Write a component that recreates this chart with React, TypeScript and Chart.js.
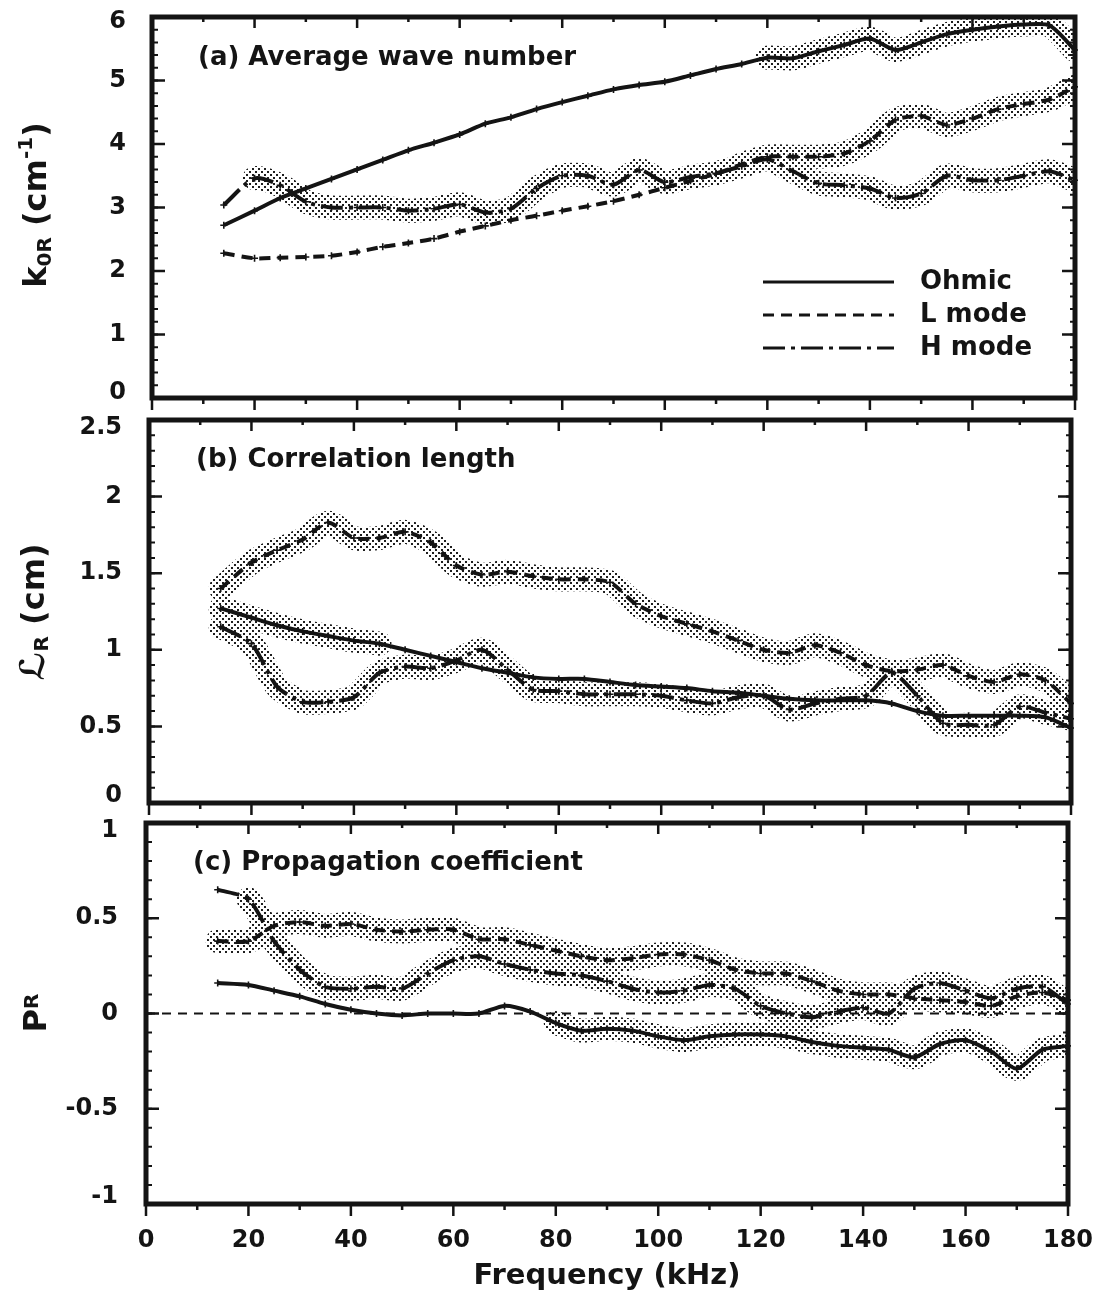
import React, { useEffect, useRef } from 'react';
import { Chart, registerables } from 'chart.js';

Chart.register(...registerables);

// ---------------- data ----------------
const freq = [14, 20, 25, 30, 35, 40, 45, 50, 55, 60, 65, 70, 75, 80, 85, 90, 95, 100, 105, 110, 115, 120, 125, 130, 135, 140, 145, 150, 155, 160, 165, 170, 175, 180];

// (a) average wave number k0R (cm^-1)
const kOhmic = [2.72, 2.95, 3.15, 3.3, 3.45, 3.6, 3.75, 3.9, 4.02, 4.15, 4.32, 4.42, 4.55, 4.66, 4.76, 4.86, 4.93, 4.98, 5.08, 5.18, 5.26, 5.36, 5.35, 5.46, 5.56, 5.66, 5.48, 5.6, 5.73, 5.8, 5.85, 5.88, 5.87, 5.48];
const kLmode = [2.28, 2.2, 2.21, 2.22, 2.24, 2.3, 2.38, 2.44, 2.51, 2.62, 2.71, 2.8, 2.87, 2.95, 3.02, 3.1, 3.2, 3.31, 3.42, 3.53, 3.68, 3.8, 3.8, 3.8, 3.85, 4.05, 4.38, 4.44, 4.3, 4.4, 4.55, 4.63, 4.7, 4.9];
const kHmode = [3.04, 3.46, 3.35, 3.09, 3.0, 3.0, 3.0, 2.95, 2.98, 3.05, 2.92, 2.98, 3.3, 3.5, 3.5, 3.36, 3.59, 3.4, 3.48, 3.54, 3.65, 3.76, 3.57, 3.38, 3.35, 3.3, 3.15, 3.22, 3.5, 3.43, 3.43, 3.5, 3.57, 3.43];

// (b) correlation length L_R (cm)
const lOhmic = [1.27, 1.21, 1.16, 1.12, 1.09, 1.06, 1.04, 1.0, 0.96, 0.92, 0.88, 0.85, 0.82, 0.81, 0.81, 0.79, 0.77, 0.76, 0.75, 0.73, 0.72, 0.7, 0.68, 0.67, 0.67, 0.67, 0.65, 0.6, 0.57, 0.57, 0.57, 0.57, 0.56, 0.49];
const lLmode = [1.4, 1.57, 1.65, 1.72, 1.83, 1.73, 1.73, 1.77, 1.7, 1.55, 1.49, 1.51, 1.48, 1.46, 1.46, 1.44, 1.3, 1.22, 1.17, 1.12, 1.06, 1.0, 0.98, 1.03, 0.98, 0.9, 0.86, 0.87, 0.9, 0.83, 0.79, 0.84, 0.8, 0.65];
const lHmode = [1.15, 1.04, 0.76, 0.66, 0.66, 0.69, 0.85, 0.89, 0.88, 0.93, 1.0, 0.87, 0.74, 0.73, 0.71, 0.71, 0.71, 0.7, 0.67, 0.65, 0.69, 0.7, 0.61, 0.65, 0.68, 0.7, 0.85, 0.7, 0.52, 0.51, 0.51, 0.63, 0.59, 0.55];

// (c) propagation coefficient P_R
const pOhmic = [0.16, 0.15, 0.12, 0.09, 0.05, 0.02, 0.0, -0.01, 0.0, 0.0, 0.0, 0.04, 0.01, -0.05, -0.09, -0.08, -0.09, -0.12, -0.14, -0.12, -0.11, -0.11, -0.12, -0.15, -0.17, -0.18, -0.19, -0.23, -0.16, -0.14, -0.2, -0.29, -0.19, -0.17];
const pLmode = [0.38, 0.38, 0.46, 0.48, 0.46, 0.47, 0.44, 0.43, 0.44, 0.44, 0.39, 0.39, 0.36, 0.33, 0.3, 0.28, 0.29, 0.31, 0.31, 0.28, 0.23, 0.21, 0.21, 0.17, 0.12, 0.1, 0.1, 0.08, 0.07, 0.06, 0.04, 0.09, 0.11, 0.07];
const pHmode = [0.65, 0.6, 0.38, 0.23, 0.14, 0.13, 0.14, 0.13, 0.21, 0.28, 0.3, 0.26, 0.23, 0.21, 0.2, 0.17, 0.13, 0.11, 0.12, 0.15, 0.13, 0.04, 0.0, -0.02, 0.01, 0.03, 0.0, 0.13, 0.16, 0.12, 0.08, 0.13, 0.14, 0.05];

const zeroLineX = [0, 180];
const zeroLineY = [0, 0];

// tick labels
const freqTicks = [0, 20, 40, 60, 80, 100, 120, 140, 160, 180];
const kTicks = [0, 1, 2, 3, 4, 5, 6];
const lTicks = [0, 0.5, 1, 1.5, 2, 2.5];
const pTicks = [-1, -0.5, 0, 0.5, 1];

const legendLabels = ['Ohmic', 'L mode', 'H mode'];

// ---------------- styles ----------------
const W = 1094;
const H = 1295;
const INK = '#141414';
const FONT = "'DejaVu Sans', 'Liberation Sans', Arial, sans-serif";
const DASH_SOLID: number[] = [];
const DASH_L = [11, 7];
const DASH_H = [22, 6, 4, 6];

type Series = { values: number[]; dash: number[]; band: [number, number] | null };
type TitlePart = { t: string; s: number; dy: number };
type Panel = {
  area: { top: number; bottom: number; left: number; right: number };
  yMin: number;
  yMax: number;
  yTicks: number[];
  minorStep: number;
  tickPad: number;
  edgeShift: number;
  series: Series[];
  title: { text: string; x: number; y: number };
  yTitle: { parts: TitlePart[]; x: number; y: number };
  showX: boolean;
  legend: boolean;
  zero: boolean;
};

const PANELS: Panel[] = [
  {
    area: { top: 17, bottom: 398, left: 152, right: 1075 },
    yMin: 0, yMax: 6, yTicks: kTicks, minorStep: 0.2, tickPad: 18, edgeShift: 10,
    series: [
      { values: kOhmic, dash: DASH_SOLID, band: [118, 180] },
      { values: kLmode, dash: DASH_L, band: [115, 180] },
      { values: kHmode, dash: DASH_H, band: [20, 180] },
    ],
    title: { text: '(a) Average wave number', x: 198, y: 58 },
    yTitle: {
      parts: [
        { t: 'k', s: 32, dy: 0 },
        { t: '0R', s: 20, dy: 5 },
        { t: ' (cm', s: 32, dy: 0 },
        { t: '-1', s: 20, dy: -14 },
        { t: ')', s: 32, dy: 0 },
      ],
      x: 46, y: 205,
    },
    showX: false, legend: true, zero: false,
  },
  {
    area: { top: 420, bottom: 803, left: 149, right: 1071 },
    yMin: 0, yMax: 2.5, yTicks: lTicks, minorStep: 0.1, tickPad: 19, edgeShift: 15,
    series: [
      { values: lOhmic, dash: DASH_SOLID, band: [14, 45] },
      { values: lLmode, dash: DASH_L, band: [14, 180] },
      { values: lHmode, dash: DASH_H, band: [14, 180] },
    ],
    title: { text: '(b) Correlation length', x: 196, y: 460 },
    yTitle: {
      parts: [
        { t: 'ℒ', s: 34, dy: 0 },
        { t: 'R', s: 20, dy: 4 },
        { t: ' (cm)', s: 32, dy: 0 },
      ],
      x: 44, y: 612,
    },
    showX: false, legend: false, zero: false,
  },
  {
    area: { top: 823, bottom: 1204, left: 146, right: 1068 },
    yMin: -1, yMax: 1, yTicks: pTicks, minorStep: 0.1, tickPad: 20, edgeShift: 15,
    series: [
      { values: pOhmic, dash: DASH_SOLID, band: [78, 180] },
      { values: pLmode, dash: DASH_L, band: [14, 180] },
      { values: pHmode, dash: DASH_H, band: [20, 180] },
    ],
    title: { text: '(c) Propagation coefficient', x: 193, y: 863 },
    yTitle: {
      parts: [
        { t: 'P', s: 32, dy: 0 },
        { t: 'R', s: 20, dy: -8 },
      ],
      x: 46, y: 1013,
    },
    showX: true, legend: false, zero: true,
  },
];

function makePattern(): CanvasPattern | string {
  const c = document.createElement('canvas');
  c.width = 6;
  c.height = 6;
  const g = c.getContext('2d');
  if (!g) return 'rgba(60,60,60,0.3)';
  g.fillStyle = '#1e1e1e';
  g.fillRect(0, 0, 2, 2);
  g.fillRect(3, 3, 2, 2);
  return g.createPattern(c, 'repeat') || 'rgba(60,60,60,0.3)';
}

function toPoints(values: number[]) {
  return freq.map((x, i) => ({ x, y: values[i] }));
}

function makeFramePlugin(p: Panel) {
  return {
    id: 'frameDecor',
    afterDatasetsDraw(chart: any) {
      const { ctx, chartArea: a, scales } = chart;
      const xs = scales.x;
      const ys = scales.y;
      ctx.save();
      ctx.strokeStyle = INK;
      ctx.lineCap = 'butt';
      ctx.lineWidth = 2.5;
      for (let i = 0; i < freqTicks.length; i++) {
        const px = xs.getPixelForValue(freqTicks[i]);
        ctx.beginPath();
        ctx.moveTo(px, a.bottom);
        ctx.lineTo(px, a.bottom + 12);
        ctx.moveTo(px, a.top);
        ctx.lineTo(px, a.top + 11);
        ctx.stroke();
        if (i < freqTicks.length - 1) {
          const mx = xs.getPixelForValue((freqTicks[i] + freqTicks[i + 1]) / 2);
          ctx.beginPath();
          ctx.moveTo(mx, a.bottom);
          ctx.lineTo(mx, a.bottom + 6);
          ctx.moveTo(mx, a.top);
          ctx.lineTo(mx, a.top + 5);
          ctx.stroke();
        }
      }
      for (const v of p.yTicks) {
        const py = ys.getPixelForValue(v);
        ctx.beginPath();
        ctx.moveTo(a.left, py);
        ctx.lineTo(a.left + 13, py);
        ctx.moveTo(a.right, py);
        ctx.lineTo(a.right - 13, py);
        ctx.stroke();
      }
      ctx.lineWidth = 2;
      const n = Math.round((p.yMax - p.yMin) / p.minorStep);
      for (let i = 1; i < n; i++) {
        const py = ys.getPixelForValue(p.yMin + i * p.minorStep);
        ctx.beginPath();
        ctx.moveTo(a.left, py);
        ctx.lineTo(a.left + 6, py);
        ctx.moveTo(a.right, py);
        ctx.lineTo(a.right - 5, py);
        ctx.stroke();
      }
      ctx.lineWidth = 5;
      ctx.strokeRect(a.left, a.top, a.right - a.left, a.bottom - a.top);
      ctx.restore();
    },
    afterDraw(chart: any) {
      const { ctx } = chart;
      ctx.save();
      ctx.fillStyle = INK;
      ctx.font = `bold 26px ${FONT}`;
      ctx.textAlign = 'left';
      ctx.textBaseline = 'middle';
      ctx.fillText(p.title.text, p.title.x, p.title.y);
      ctx.save();
      ctx.translate(p.yTitle.x, p.yTitle.y);
      ctx.rotate(-Math.PI / 2);
      ctx.textBaseline = 'alphabetic';
      let total = 0;
      for (const part of p.yTitle.parts) {
        ctx.font = `bold ${part.s}px ${FONT}`;
        total += ctx.measureText(part.t).width;
      }
      let cx = -total / 2;
      for (const part of p.yTitle.parts) {
        ctx.font = `bold ${part.s}px ${FONT}`;
        ctx.fillText(part.t, cx, part.dy);
        cx += ctx.measureText(part.t).width;
      }
      ctx.restore();
      if (p.legend) {
        const dashes = [DASH_SOLID, DASH_L, DASH_H];
        ctx.font = `bold 26px ${FONT}`;
        ctx.textBaseline = 'middle';
        ctx.strokeStyle = INK;
        ctx.lineWidth = 3;
        for (let i = 0; i < legendLabels.length; i++) {
          const y = 282 + i * 33;
          ctx.setLineDash(dashes[i]);
          ctx.beginPath();
          ctx.moveTo(763, y);
          ctx.lineTo(894, y);
          ctx.stroke();
          ctx.setLineDash([]);
          ctx.fillText(legendLabels[i], 920, y);
        }
      }
      ctx.restore();
    },
  };
}

function buildConfig(p: Panel, pattern: CanvasPattern | string): any {
  const datasets: any[] = [];
  for (const s of p.series) {
    const band = s.band;
    datasets.push({
      data: toPoints(s.values),
      borderColor: pattern,
      borderWidth: 24,
      borderCapStyle: 'round',
      borderJoinStyle: 'round',
      pointRadius: 0,
      tension: 0.25,
      fill: false,
      order: 3,
      clip: 2,
      segment: {
        borderColor: (ctx: any) => {
          const x0 = ctx.p0.parsed.x;
          const x1 = ctx.p1.parsed.x;
          return band && x0 >= band[0] - 0.01 && x1 <= band[1] + 0.01 ? pattern : 'rgba(0,0,0,0)';
        },
      },
    });
  }
  for (const s of p.series) {
    datasets.push({
      data: toPoints(s.values),
      borderColor: INK,
      borderWidth: 4,
      borderDash: s.dash,
      pointStyle: 'cross',
      pointRadius: 3.5,
      pointBorderWidth: 1.6,
      pointBorderColor: INK,
      pointBackgroundColor: INK,
      tension: 0.25,
      fill: false,
      order: 1,
      clip: 3,
    });
  }
  if (p.zero) {
    datasets.push({
      data: zeroLineX.map((x, i) => ({ x, y: zeroLineY[i] })),
      borderColor: INK,
      borderWidth: 1.8,
      borderDash: [9, 7],
      pointRadius: 0,
      fill: false,
      order: 2,
    });
  }

  const a = p.area;
  const isEdge = (v: number) => v === p.yMin || v === p.yMax;
  return {
    type: 'line',
    data: { datasets },
    options: {
      animation: false,
      responsive: false,
      events: [],
      layout: {
        padding: {
          top: a.top,
          bottom: p.showX ? 0 : H - a.bottom,
          left: 0,
          right: W - a.right,
        },
      },
      plugins: { legend: { display: false }, tooltip: { enabled: false }, title: { display: false } },
      scales: {
        x: {
          type: 'linear',
          min: 0,
          max: 180,
          display: p.showX,
          grid: { display: false },
          border: { display: false },
          afterBuildTicks: (s: any) => {
            s.ticks = freqTicks.map((v) => ({ value: v }));
          },
          afterFit: (s: any) => {
            if (p.showX) s.height = H - a.bottom;
            s.paddingLeft = 0;
            s.paddingRight = 0;
          },
          ticks: {
            color: INK,
            padding: 14,
            maxRotation: 0,
            autoSkip: false,
            font: { family: FONT, weight: 'bold', size: 24 },
            callback: (v: any) => String(v),
          },
          title: {
            display: true,
            text: 'Frequency (kHz)',
            color: INK,
            font: { family: FONT, weight: 'bold', size: 29 },
            padding: { top: 0, bottom: 1 },
          },
        },
        y: {
          type: 'linear',
          min: p.yMin,
          max: p.yMax,
          grid: { display: false },
          border: { display: false },
          afterBuildTicks: (s: any) => {
            s.ticks = p.yTicks.map((v) => ({ value: v }));
          },
          afterFit: (s: any) => {
            s.width = a.left;
            s.paddingTop = 0;
            s.paddingBottom = 0;
          },
          ticks: {
            color: INK,
            padding: p.tickPad,
            labelOffset: 0,
            autoSkip: false,
            font: (c: any) => ({
              family: FONT,
              weight: 'bold',
              size: 24,
              lineHeight: c.tick && isEdge(c.tick.value) ? `${p.edgeShift}px` : 1.2,
            }),
            callback: (v: any) => {
              const t = String(v);
              if (v === p.yMax) return ['', t];
              if (v === p.yMin) return [t, ''];
              return t;
            },
          },
        },
      },
    },
    plugins: [makeFramePlugin(p)],
  };
}

export default function App() {
  const r0 = useRef<HTMLCanvasElement>(null);
  const r1 = useRef<HTMLCanvasElement>(null);
  const r2 = useRef<HTMLCanvasElement>(null);

  useEffect(() => {
    const pattern = makePattern();
    const refs = [r0, r1, r2];
    const charts: Chart[] = [];
    PANELS.forEach((p, i) => {
      const el = refs[i].current;
      if (el) charts.push(new Chart(el, buildConfig(p, pattern)));
    });
    return () => charts.forEach((c) => c.destroy());
  }, []);

  const cstyle: React.CSSProperties = { position: 'absolute', left: 0, top: 0, width: W, height: H };
  return (
    <div style={{ position: 'absolute', left: 0, top: 0, width: W, height: H, background: '#fff', overflow: 'hidden' }}>
      <canvas ref={r0} width={W} height={H} style={cstyle} />
      <canvas ref={r1} width={W} height={H} style={cstyle} />
      <canvas ref={r2} width={W} height={H} style={cstyle} />
    </div>
  );
}
